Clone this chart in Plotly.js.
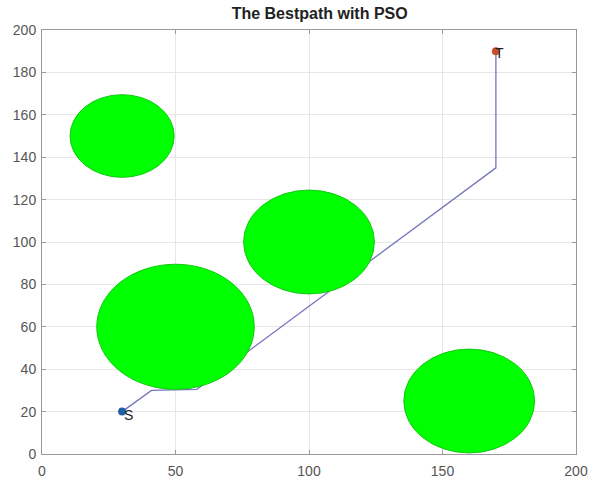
<!DOCTYPE html>
<html><head><meta charset="utf-8">
<script src="https://cdn.plot.ly/plotly-3.0.1.min.js"></script>
<style>html,body{margin:0;padding:0;background:#fff}</style>
</head><body><div id="c" style="width:593px;height:482px"></div>
<script>
// obstacles
const obsX = [30, 100, 50, 160];
const obsY = [150, 100, 60, 25];
const obsR = [19.5, 24.5, 29.5, 24.5];
// best path
const pathX = [30, 41, 58, 170, 170];
const pathY = [20, 30, 30.5, 135, 190];
// start / target
const startPt = [30, 20];
const targetPt = [170, 190];
const ticks = [0, 50, 100, 150, 200];
const yticks = [0, 20, 40, 60, 80, 100, 120, 140, 160, 180, 200];

const shapes = obsX.map((cx, i) => ({
  type: 'circle', xref: 'x', yref: 'y',
  x0: cx - obsR[i], x1: cx + obsR[i], y0: obsY[i] - obsR[i], y1: obsY[i] + obsR[i],
  fillcolor: '#00ff00', line: {color: '#14c814', width: 1}, layer: 'above'
}));

const traces = [
  {x: pathX, y: pathY, mode: 'lines', line: {color: '#7474bc', width: 1.3}, hoverinfo: 'skip'},
  {x: [startPt[0]], y: [startPt[1]], mode: 'markers', marker: {color: '#1f5fa8', size: 8}},
  {x: [targetPt[0]], y: [targetPt[1]], mode: 'markers', marker: {color: '#c8502a', size: 8}}
];

const lblFont = {size: 14, color: '#222', family: 'Liberation Sans, Arial'};
const annotations = [
  {x: startPt[0], y: startPt[1], text: 'S', showarrow: false, xshift: 6, yshift: -3, font: lblFont},
  {x: targetPt[0], y: targetPt[1], text: 'T', showarrow: false, xshift: 4, yshift: -2, font: lblFont}
];

const axBase = {
  showgrid: true, gridcolor: '#e6e6e6', gridwidth: 1,
  showline: true, linecolor: '#9a9a9a', linewidth: 1, mirror: 'ticks',
  ticks: 'inside', ticklen: 4, tickcolor: '#9a9a9a',
  tickfont: {size: 14, color: '#555', family: 'Liberation Sans, Arial'},
  zeroline: false, fixedrange: true
};

Plotly.newPlot('c', traces, {
  width: 593, height: 482,
  margin: {l: 42, r: 17, t: 30, b: 28},
  paper_bgcolor: '#fff', plot_bgcolor: '#fff',
  showlegend: false,
  title: {text: '<b>The Bestpath with PSO</b>', x: 0.52, xref: 'paper', y: 0.972, yanchor: 'middle',
          font: {size: 16, color: '#222', family: 'Liberation Sans, Arial'}},
  xaxis: Object.assign({}, axBase, {range: [0, 200], tickvals: ticks, ticklabelstandoff: 4}),
  yaxis: Object.assign({}, axBase, {range: [0, 200], tickvals: yticks, ticklabelstandoff: 2}),
  shapes: shapes,
  annotations: annotations
}, {staticPlot: true});
</script></body></html>
